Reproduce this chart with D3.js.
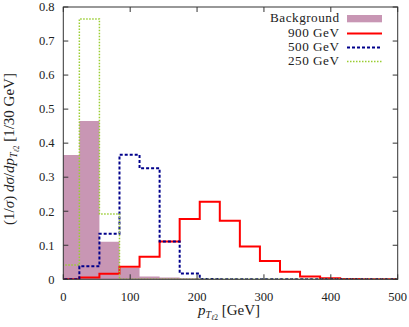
<!DOCTYPE html>
<html>
<head>
<meta charset="utf-8">
<script src="https://cdn.jsdelivr.net/npm/d3@7"></script>
<style>
  html, body { margin: 0; padding: 0; background: #fff; }
  svg { display: block; }
  text { font-family: "Liberation Serif", "DejaVu Serif", serif; fill: #222; }
</style>
</head>
<body>
<svg id="chart" width="409" height="327"></svg>
<script>
// ---- data ----
const binWidth = 30;
const binStart = [-6, 24, 54, 84, 114, 144, 174, 204, 234, 264, 294, 324, 354, 384, 414, 444, 474];
const background = [0.365, 0.465, 0.11, 0.033, 0.008, 0.005, 0.003, 0.001, 0.001, 0, 0, 0, 0, 0, 0, 0, 0];
const sig900 = [0, 0.005, 0.016, 0.037, 0.066, 0.111, 0.177, 0.228, 0.172, 0.096, 0.054, 0.022, 0.008, 0.003, 0.001, 0, 0];
const sig500 = [0, 0.038, 0.134, 0.366, 0.326, 0.111, 0.017, 0.001, 0, 0, 0, 0, 0, 0, 0, 0, 0];
const sig250 = [0.042, 0.765, 0.192, 0, 0, 0, 0, 0, 0, 0, 0, 0, 0, 0, 0, 0, 0];
const xTicks = [0, 100, 200, 300, 400, 500];
const yTicks = [0, 0.1, 0.2, 0.3, 0.4, 0.5, 0.6, 0.7, 0.8];
const legendLabels = ["Background", "900 GeV", "500 GeV", "250 GeV"];

// ---- layout ----
const svg = d3.select("#chart");
const L = 63.3, R = 397.7, T = 7, B = 279.3;
const x = d3.scaleLinear().domain([0, 500]).range([L, R]);
const y = d3.scaleLinear().domain([0, 0.8]).range([B, T]);

svg.append("defs").append("clipPath").attr("id", "clip")
  .append("rect").attr("x", L).attr("y", T).attr("width", R - L).attr("height", B - T);

function pts(vals) {
  const p = binStart.map((s, i) => [s, vals[i]]);
  p.push([binStart[binStart.length - 1] + binWidth, vals[vals.length - 1]]);
  return p;
}

const g = svg.append("g").attr("clip-path", "url(#clip)");

const area = d3.area().curve(d3.curveStepAfter)
  .x(d => x(d[0])).y0(y(0)).y1(d => y(d[1]));
const line = d3.line().curve(d3.curveStepAfter)
  .x(d => x(d[0])).y(d => y(d[1]));

const colBg = "#c896b4", colRed = "#ff0000", colBlue = "#00008b", colGreen = "#9acd32";

g.append("path").attr("d", area(pts(background))).attr("fill", colBg);
g.append("path").attr("d", line(pts(sig900))).attr("fill", "none")
  .attr("stroke", colRed).attr("stroke-width", 2);
g.append("path").attr("d", line(pts(sig500))).attr("fill", "none")
  .attr("stroke", colBlue).attr("stroke-width", 2).attr("stroke-dasharray", "3,2");
g.append("path").attr("d", line(pts(sig250))).attr("fill", "none")
  .attr("stroke", colGreen).attr("stroke-width", 1.5).attr("stroke-dasharray", "1.5,1.5");

// ---- frame & ticks ----
const tl = 5;
const axG = svg.append("g").attr("stroke", "#333").attr("stroke-width", 1);
xTicks.forEach(t => {
  axG.append("line").attr("x1", x(t)).attr("x2", x(t)).attr("y1", B).attr("y2", B - tl);
  axG.append("line").attr("x1", x(t)).attr("x2", x(t)).attr("y1", T).attr("y2", T + tl);
});
yTicks.forEach(t => {
  axG.append("line").attr("x1", L).attr("x2", L + tl).attr("y1", y(t)).attr("y2", y(t));
  axG.append("line").attr("x1", R).attr("x2", R - tl).attr("y1", y(t)).attr("y2", y(t));
});
svg.append("rect").attr("x", L).attr("y", T).attr("width", R - L).attr("height", B - T)
  .attr("fill", "none").attr("stroke", "#333").attr("stroke-width", 1);

// tick labels
const fs = 12.5;
xTicks.forEach(t => {
  svg.append("text").attr("x", x(t)).attr("y", 300.5).attr("text-anchor", "middle")
    .attr("font-size", fs).text(d3.format("d")(t));
});
yTicks.forEach(t => {
  svg.append("text").attr("x", 54.5).attr("y", y(t) + 4.3).attr("text-anchor", "end")
    .attr("font-size", fs).text(t === 0 ? "0" : d3.format(".1f")(t));
});

// x-axis label
const xl = svg.append("text").attr("x", 229).attr("y", 315).attr("text-anchor", "middle").attr("font-size", 15);
xl.append("tspan").attr("font-style", "italic").text("p");
xl.append("tspan").attr("font-style", "italic").attr("font-size", 10).attr("dy", 3).text("T");
xl.append("tspan").attr("font-style", "italic").attr("font-size", 7.5).attr("dy", 2).text("ℓ");
xl.append("tspan").attr("font-size", 7.5).text("2");
xl.append("tspan").attr("dy", -5).text(" [GeV]");

// y-axis label
const yl = svg.append("text").attr("transform", "translate(14,149) rotate(-90)")
  .attr("text-anchor", "middle").attr("font-size", 15);
yl.append("tspan").text("(1/");
yl.append("tspan").attr("font-style", "italic").text("σ");
yl.append("tspan").text(")  ");
yl.append("tspan").attr("font-style", "italic").text("dσ");
yl.append("tspan").text("/");
yl.append("tspan").attr("font-style", "italic").text("dp");
yl.append("tspan").attr("font-style", "italic").attr("font-size", 10).attr("dy", 3).text("T");
yl.append("tspan").attr("font-style", "italic").attr("font-size", 7.5).attr("dy", 2).text("ℓ");
yl.append("tspan").attr("font-size", 7.5).text("2");
yl.append("tspan").attr("dy", -5).text("  [1/30 GeV]");

// ---- legend ----
const lx = 339.5, sx0 = 347, sx1 = 382;
const rowY = [18.5, 33.5, 47.5, 61.5];
const baseY = [22.3, 36.5, 50.7, 64.9];
legendLabels.forEach((lab, i) => {
  svg.append("text").attr("x", lx).attr("y", baseY[i]).attr("text-anchor", "end")
    .attr("font-size", 13.2).attr("letter-spacing", 0.5).text(lab);
});
svg.append("rect").attr("x", sx0).attr("y", 15).attr("width", sx1 - sx0).attr("height", 7.3).attr("fill", colBg);
svg.append("line").attr("x1", sx0).attr("x2", sx1).attr("y1", rowY[1]).attr("y2", rowY[1])
  .attr("stroke", colRed).attr("stroke-width", 2);
svg.append("line").attr("x1", sx0).attr("x2", sx1).attr("y1", rowY[2]).attr("y2", rowY[2])
  .attr("stroke", colBlue).attr("stroke-width", 2).attr("stroke-dasharray", "3,2");
svg.append("line").attr("x1", sx0).attr("x2", sx1).attr("y1", rowY[3]).attr("y2", rowY[3])
  .attr("stroke", colGreen).attr("stroke-width", 1.5).attr("stroke-dasharray", "1.5,1.5");
</script>
</body>
</html>
